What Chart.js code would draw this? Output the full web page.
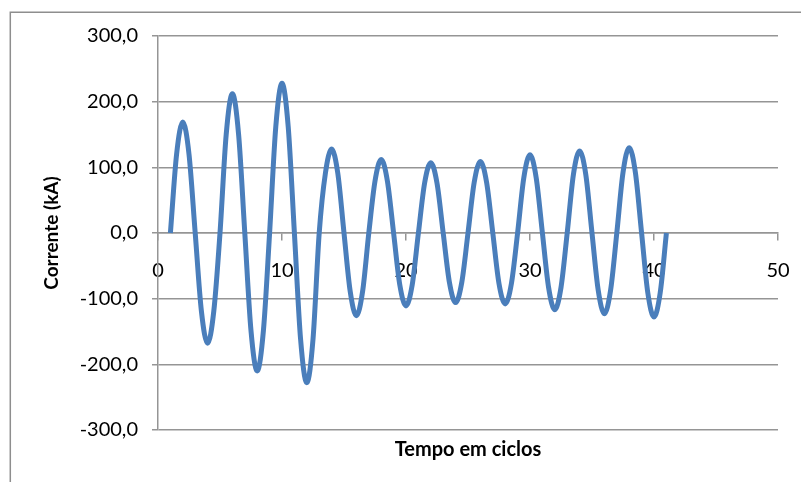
<!DOCTYPE html>
<html>
<head>
<meta charset="utf-8">
<script src="https://cdn.jsdelivr.net/npm/chart.js@4/dist/chart.umd.min.js"></script>
<style>
  html, body { margin: 0; padding: 0; background: #fff; }
  #wrap { width: 801px; height: 482px; }
</style>
</head>
<body>
<div id="wrap"><canvas id="c" width="801" height="482"></canvas></div>
<script>
// Time axis (cycles)
const tempoCiclos = [
  1, 1.5, 2, 2.5, 3, 3.5, 4, 4.5, 5, 5.5, 6, 6.5, 7, 7.5, 8, 8.5, 9, 9.5, 10, 10.5,
  11, 11.5, 12, 12.5, 13, 13.5, 14, 14.5, 15, 15.5, 16, 16.5, 17, 17.5, 18, 18.5, 19, 19.5, 20, 20.5,
  21, 21.5, 22, 22.5, 23, 23.5, 24, 24.5, 25, 25.5, 26, 26.5, 27, 27.5, 28, 28.5, 29, 29.5, 30, 30.5,
  31, 31.5, 32, 32.5, 33, 33.5, 34, 34.5, 35, 35.5, 36, 36.5, 37, 37.5, 38, 38.5, 39, 39.5, 40, 40.5, 41
];
// Short-circuit current (kA)
const correnteKA = [
  0, 120, 169, 120, 0, -119, -168, -119, 0, 150, 212, 150, 0, -149, -210, -149, 0, 162, 228, 162,
  0, -162, -228, -162, 0, 91, 128, 91, 0, -89, -126, -89, 0, 79, 112, 79, 0, -79, -111, -79,
  0, 76, 107, 76, 0, -75, -106, -75, 0, 77, 109, 77, 0, -77, -108, -77, 0, 84, 119, 84,
  0, -83, -117, -83, 0, 89, 125, 89, 0, -87, -123, -87, 0, 92, 130, 92, 0, -91, -128, -91, 0
];
// Tick labels
const xTicks = [0, 10, 20, 30, 40, 50];
const yTicks = [-300, -200, -100, 0, 100, 200, 300];

const FONT = 'Lato, "Open Sans", sans-serif';
const GRID = '#959595';

const points = tempoCiclos.map((t, i) => ({ x: t, y: correnteKA[i] }));

// Outer chart frame (top and left edges)
const framePlugin = {
  id: 'frame',
  beforeDraw(chart) {
    const ctx = chart.ctx;
    ctx.save();
    ctx.fillStyle = '#fff';
    ctx.fillRect(0, 0, chart.width, chart.height);
    ctx.strokeStyle = '#8e8e8e';
    ctx.lineWidth = 1.5;
    ctx.beginPath();
    ctx.moveTo(10.3, chart.height);
    ctx.lineTo(10.3, 12.3);
    ctx.lineTo(chart.width, 12.3);
    ctx.stroke();
    ctx.restore();
  }
};

new Chart(document.getElementById('c'), {
  type: 'line',
  data: {
    datasets: [{
      data: points,
      borderColor: '#4A7EBB',
      borderWidth: 5,
      pointRadius: 0,
      fill: false,
      cubicInterpolationMode: 'monotone'
    }]
  },
  options: {
    responsive: false,
    animation: false,
    layout: { padding: { top: 36, left: 10, right: 23, bottom: 20 } },
    plugins: {
      legend: { display: false },
      tooltip: { enabled: false },
      title: {
        display: true,
        text: 'Tempo em ciclos',
        position: 'bottom',
        fullSize: false,
        color: '#000',
        font: { family: FONT, size: 20, weight: 'bold' },
        padding: { top: 8, bottom: 0 }
      }
    },
    scales: {
      x: {
        type: 'linear',
        position: { y: 0 },
        min: 0,
        max: 50,
        afterBuildTicks(scale) { scale.ticks = xTicks.map(v => ({ value: v })); },
        afterFit(scale) { scale.paddingLeft = 0; scale.paddingRight = 0; },
        grid: { drawOnChartArea: false, drawTicks: true, tickLength: 7, color: GRID, lineWidth: 1.5 },
        border: { display: true, color: GRID, width: 1.5 },
        ticks: { color: '#000', font: { family: FONT, size: 20 }, padding: 19, maxRotation: 0 }
      },
      y: {
        type: 'linear',
        position: 'left',
        min: -300,
        max: 300,
        afterBuildTicks(scale) { scale.ticks = yTicks.map(v => ({ value: v })); },
        afterFit(scale) { scale.width = 148; },
        grid: { color: GRID, lineWidth: 1.5, tickLength: 6 },
        border: { display: true, color: GRID, width: 1.5 },
        ticks: {
          color: '#000',
          font: { family: FONT, size: 20 },
          padding: 14,
          callback: v => v.toFixed(1).replace('.', ',')
        },
        title: {
          display: true,
          text: 'Corrente (kA)',
          color: '#000',
          font: { family: FONT, size: 19, weight: 'bold' },
          padding: { top: 30, bottom: 0 }
        }
      }
    }
  },
  plugins: [framePlugin]
});
</script>
</body>
</html>
